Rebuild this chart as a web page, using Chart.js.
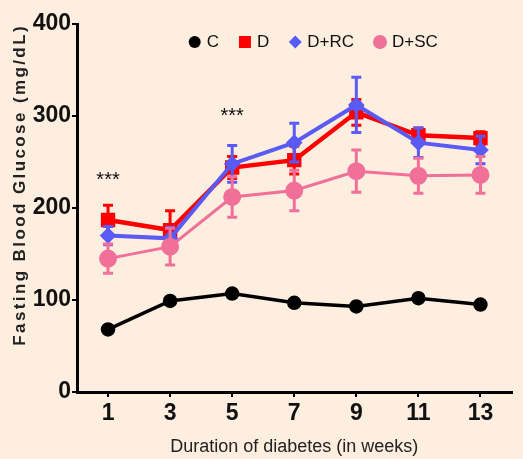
<!DOCTYPE html>
<html>
<head>
<meta charset="utf-8">
<script src="https://cdn.jsdelivr.net/npm/chart.js@4.4.1/dist/chart.umd.min.js"></script>
<style>
  html, body { margin: 0; padding: 0; background: #fdeedf; }
  #wrap { width: 523px; height: 459px; }
</style>
</head>
<body>
<div id="wrap"><canvas id="glucoseChart"></canvas></div>
<script>
// weeks on the x axis
const weeks = [1, 3, 5, 7, 9, 11, 13];
const yTicks = [0, 100, 200, 300, 400];

// mean fasting glucose (mg/dL) and error bars per group
const cMean = [68, 99, 107, 97, 93, 102, 95];
const dMean = [187, 176, 244, 252, 304, 279, 276];
const dErr = [16, 21, 12, 15, 14, 8, 7];
const rcMean = [170, 167, 248, 271, 312, 271, 263];
const rcErr = [10, 12, 20, 21, 30, 16, 15];
const scMean = [145, 158, 212, 219, 240, 235, 236];
const scErr = [16, 20, 22, 22, 23, 19, 20];

// significance marks
const starWeeks = [1, 5];
const starValues = [230, 300];

const sans = "'Liberation Sans', Arial, sans-serif";

function pts(arr) {
  return arr.map((v, i) => ({ x: weeks[i], y: v }));
}

// simple marker shapes, used for the legend
function marker(c, style, x, y, r) {
  c.beginPath();
  if (style === 'rect') {
    c.rect(x - r, y - r, 2 * r, 2 * r);
  } else if (style === 'rectRot') {
    c.moveTo(x, y - r); c.lineTo(x + r, y); c.lineTo(x, y + r); c.lineTo(x - r, y); c.closePath();
  } else {
    c.arc(x, y, r, 0, Math.PI * 2);
  }
  c.fill();
}

// paint the peach background
const bgPlugin = {
  id: 'bg',
  beforeDraw(chart) {
    const c = chart.ctx;
    c.save();
    c.fillStyle = '#fdeedf';
    c.fillRect(0, 0, chart.width, chart.height);
    c.restore();
  }
};

// error bars (drawn per dataset so stacking follows the lines)
const errorBars = {
  id: 'errorBars',
  afterDatasetDraw(chart, args) {
    const ds = chart.data.datasets[args.index];
    if (!ds.errors) return;
    const x = chart.scales.x, y = chart.scales.y, c = chart.ctx;
    c.save();
    c.strokeStyle = ds.borderColor;
    c.lineWidth = 3;
    ds.data.forEach((p, i) => {
      const px = x.getPixelForValue(p.x);
      const top = y.getPixelForValue(p.y + ds.errors[i]);
      const bot = y.getPixelForValue(p.y - ds.errors[i]);
      c.beginPath();
      c.moveTo(px, top); c.lineTo(px, bot);
      c.moveTo(px - 5, top); c.lineTo(px + 5, top);
      c.moveTo(px - 5, bot); c.lineTo(px + 5, bot);
      c.stroke();
    });
    c.restore();
  }
};

// *** markers
const stars = {
  id: 'stars',
  afterDatasetsDraw(chart) {
    const c = chart.ctx;
    c.save();
    c.fillStyle = '#111';
    c.font = '20px ' + sans;
    c.textAlign = 'center';
    c.textBaseline = 'middle';
    starWeeks.forEach((w, i) => {
      c.fillText('***', chart.scales.x.getPixelForValue(w), chart.scales.y.getPixelForValue(starValues[i]));
    });
    c.restore();
  }
};

// one-row legend inside the plot, above the lines
const rowLegend = {
  id: 'rowLegend',
  afterDraw(chart) {
    const c = chart.ctx;
    const area = chart.chartArea;
    const sizes = { circle: 6, rect: 6, rectRot: 6.5 };
    c.save();
    c.font = '17px ' + sans;
    c.textBaseline = 'middle';
    const items = chart.data.datasets.map(ds => ({
      ds, w: 12 + 6 + c.measureText(ds.label).width
    }));
    const gap = 20;
    const total = items.reduce((s, it) => s + it.w, 0) + gap * (items.length - 1);
    let x = (area.left + area.right) / 2 + 19 - total / 2;
    const y = area.top + 18;
    items.forEach(it => {
      const ds = it.ds;
      c.fillStyle = ds.borderColor;
      const r = ds.label === 'D+SC' ? 7 : sizes[ds.pointStyle];
      marker(c, ds.pointStyle, x + 6, y, r);
      c.fillStyle = '#111';
      c.fillText(ds.label, x + 18, y);
      x += it.w + gap;
    });
    c.restore();
  }
};

// widen the letter spacing of the y title as in the figure
const spacedYTitle = {
  id: 'spacedYTitle',
  afterLayout(chart) {
    const s = chart.scales.y;
    if (!s || s._spaced) return;
    const orig = s.drawTitle;
    s.drawTitle = function () {
      const c = this.ctx;
      c.save();
      c.letterSpacing = '2.4px';
      orig.call(this);
      c.restore();
    };
    s._spaced = true;
  }
};

new Chart(document.getElementById('glucoseChart'), {
  type: 'line',
  data: {
    datasets: [
      { label: 'C', data: pts(cMean), borderColor: '#000', backgroundColor: '#000',
        borderWidth: 3.5, pointStyle: 'circle', pointRadius: 5.5, order: 0 },
      { label: 'D', data: pts(dMean), errors: dErr, borderColor: '#ff0000', backgroundColor: '#ff0000',
        borderWidth: 4.5, pointStyle: 'rect', pointRadius: 7, order: 3 },
      { label: 'D+RC', data: pts(rcMean), errors: rcErr, borderColor: '#5a5af5', backgroundColor: '#5a5af5',
        borderWidth: 4, pointStyle: 'rectRot', pointRadius: 5.5, order: 2 },
      { label: 'D+SC', data: pts(scMean), errors: scErr, borderColor: '#f0709a', backgroundColor: '#f0709a',
        borderWidth: 3, pointStyle: 'circle', pointRadius: 7.5, order: 1 }
    ]
  },
  options: {
    responsive: true,
    maintainAspectRatio: false,
    animation: false,
    layout: { padding: { top: 24, right: 0, left: 0, bottom: 0 } },
    elements: { line: { tension: 0 }, point: { borderWidth: 0 } },
    plugins: {
      tooltip: { enabled: false },
      legend: { display: false }
    },
    scales: {
      x: {
        type: 'linear',
        min: 0,
        max: 14,
        afterBuildTicks(scale) { scale.ticks = weeks.map(v => ({ value: v })); },
        afterFit(scale) { scale.height = 67; },
        border: { color: '#000', width: 3 },
        grid: { drawOnChartArea: false, drawTicks: true, tickLength: 5, color: '#000', lineWidth: 2 },
        ticks: { color: '#111', padding: 3, maxRotation: 0, font: { family: sans, size: 23, weight: 'bold' } },
        title: {
          display: true,
          text: 'Duration of diabetes (in weeks)',
          color: '#222',
          padding: { top: 0, bottom: 1 },
          font: { family: sans, size: 18 }
        }
      },
      y: {
        min: 0,
        max: 400,
        afterBuildTicks(scale) { scale.ticks = yTicks.map(v => ({ value: v })); },
        afterFit(scale) { scale.width = 77; },
        border: { color: '#000', width: 3 },
        grid: { drawOnChartArea: false, drawTicks: true, tickLength: 5, color: '#000', lineWidth: 2 },
        ticks: { color: '#111', padding: 1, font: { family: sans, size: 23, weight: 'bold' } },
        title: {
          display: true,
          text: 'Fasting Blood Glucose (mg/dL)',
          color: '#222',
          align: 'end',
          padding: { top: 10, bottom: 0 },
          font: { family: sans, size: 17, weight: 'bold' }
        }
      }
    }
  },
  plugins: [bgPlugin, errorBars, stars, rowLegend, spacedYTitle]
});
</script>
</body>
</html>
